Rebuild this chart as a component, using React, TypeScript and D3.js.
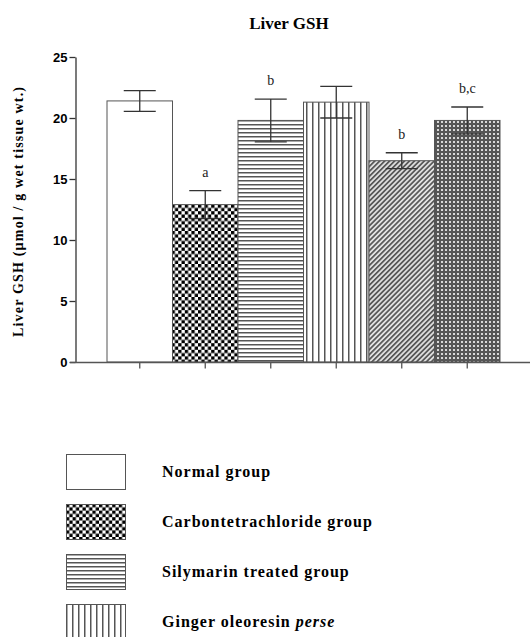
import React, { useEffect, useRef } from 'react';
import * as d3 from 'd3';

const groups = ['g1', 'g2', 'g3', 'g4', 'g5', 'g6'];
const means = [21.4, 12.9, 19.8, 21.3, 16.5, 19.8];
const errors = [0.85, 1.15, 1.75, 1.3, 0.65, 1.1];
const letters = ['', 'a', 'b', '', 'b', 'b,c'];
const fills = ['none', 'checker', 'hlines', 'vlines', 'diag', 'fine'];
const yTicks = [0, 5, 10, 15, 20, 25];

const legendNames = ['Normal group', 'Carbontetrachloride group', 'Silymarin treated group', 'Ginger oleoresin'];
const legendFills = ['none', 'checker', 'hlines', 'vlines'];

export default function App() {
  const ref = useRef<SVGSVGElement>(null);

  useEffect(() => {
    if (!ref.current) return;
    const svg = d3.select(ref.current);
    svg.selectAll('*').remove();

    const defs = svg.append('defs');

    // checkerboard
    const ck = defs.append('pattern').attr('id', 'checker').attr('patternUnits', 'userSpaceOnUse')
      .attr('width', 6.6).attr('height', 6.6);
    ck.append('rect').attr('width', 6.6).attr('height', 6.6).attr('fill', '#fff');
    ck.append('rect').attr('width', 3.3).attr('height', 3.3).attr('fill', '#000');
    ck.append('rect').attr('x', 3.3).attr('y', 3.3).attr('width', 3.3).attr('height', 3.3).attr('fill', '#000');

    // horizontal lines
    const hl = defs.append('pattern').attr('id', 'hlines').attr('patternUnits', 'userSpaceOnUse')
      .attr('width', 4).attr('height', 4);
    hl.append('rect').attr('width', 4).attr('height', 4).attr('fill', '#fff');
    hl.append('rect').attr('width', 4).attr('height', 1.5).attr('fill', '#555');

    // vertical lines
    const vl = defs.append('pattern').attr('id', 'vlines').attr('patternUnits', 'userSpaceOnUse')
      .attr('width', 6).attr('height', 6);
    vl.append('rect').attr('width', 6).attr('height', 6).attr('fill', '#fff');
    vl.append('rect').attr('width', 1.5).attr('height', 6).attr('fill', '#555');

    // diagonal hatch, rising to the right
    const dg = defs.append('pattern').attr('id', 'diag').attr('patternUnits', 'userSpaceOnUse')
      .attr('width', 3.5).attr('height', 3.5).attr('patternTransform', 'rotate(45)');
    dg.append('rect').attr('width', 3.5).attr('height', 3.5).attr('fill', '#e0e0e0');
    dg.append('rect').attr('width', 1.7).attr('height', 3.5).attr('fill', '#555');

    // fine dots
    const fn = defs.append('pattern').attr('id', 'fine').attr('patternUnits', 'userSpaceOnUse')
      .attr('width', 4).attr('height', 4);
    fn.append('rect').attr('width', 4).attr('height', 4).attr('fill', '#555');
    fn.append('rect').attr('x', 1).attr('y', 1).attr('width', 2).attr('height', 2).attr('fill', '#d8d8d8');

    const fillOf = (f: string) => (f === 'none' ? '#fff' : `url(#${f})`);

    const y = d3.scaleLinear().domain([0, 25]).range([362, 57]);
    const x = d3.scaleBand<string>().domain(groups).range([107, 500]).padding(0);
    const data = groups.map((g, i) => ({ g, m: means[i], e: errors[i], l: letters[i], f: fills[i] }));

    // title
    svg.append('text')
      .attr('x', 289).attr('y', 29)
      .attr('text-anchor', 'middle')
      .attr('font-family', 'Liberation Serif, serif')
      .attr('font-weight', 'bold').attr('font-size', 17)
      .text('Liver GSH');

    // y label
    svg.append('text')
      .attr('transform', 'translate(23,212) rotate(-90)')
      .attr('text-anchor', 'middle')
      .attr('font-family', 'Liberation Serif, serif')
      .attr('font-weight', 'bold').attr('font-size', 14)
      .attr('textLength', 250).attr('lengthAdjust', 'spacing')
      .text('Liver GSH (\u00b5mol / g wet tissue wt.)');

    // bars
    svg.append('g').selectAll('rect')
      .data(data)
      .join('rect')
      .attr('x', d => x(d.g)!)
      .attr('y', d => y(d.m))
      .attr('width', x.bandwidth())
      .attr('height', d => y(0) - y(d.m))
      .attr('fill', d => fillOf(d.f))
      .attr('stroke', '#555')
      .attr('stroke-width', 1);

    // error bars
    const eb = svg.append('g').attr('stroke', '#333').attr('stroke-width', 1.3);
    data.forEach(d => {
      const cx = x(d.g)! + x.bandwidth() / 2;
      const hi = y(d.m + d.e);
      const lo = y(d.m - d.e);
      eb.append('line').attr('x1', cx).attr('x2', cx).attr('y1', hi).attr('y2', lo);
      eb.append('line').attr('x1', cx - 16).attr('x2', cx + 16).attr('y1', hi).attr('y2', hi);
      eb.append('line').attr('x1', cx - 16).attr('x2', cx + 16).attr('y1', lo).attr('y2', lo);
    });

    // significance letters
    svg.append('g').selectAll('text')
      .data(data.filter(d => d.l))
      .join('text')
      .attr('x', d => x(d.g)! + x.bandwidth() / 2)
      .attr('y', d => y(d.m + d.e) - 14)
      .attr('text-anchor', 'middle')
      .attr('font-family', 'Liberation Serif, serif')
      .attr('font-size', 14)
      .attr('fill', '#222')
      .text(d => d.l);

    // y axis
    const yAxis = svg.append('g')
      .attr('transform', 'translate(75.5,0)')
      .call(d3.axisLeft(y).tickValues(yTicks).tickSize(6).tickSizeOuter(0).tickFormat(d3.format('d')));
    yAxis.selectAll('path,line').attr('stroke', '#333').attr('stroke-width', 1.3);
    yAxis.selectAll('text')
      .attr('font-family', 'Liberation Sans, Arial, sans-serif')
      .attr('font-weight', 'bold').attr('font-size', 13)
      .attr('fill', '#000').attr('x', -8);

    // x axis
    svg.append('line')
      .attr('x1', 70).attr('x2', 530).attr('y1', 362.5).attr('y2', 362.5)
      .attr('stroke', '#555').attr('stroke-width', 1.3);
    const xAxis = svg.append('g')
      .attr('transform', 'translate(0,362.5)')
      .call(d3.axisBottom(x).tickSize(6).tickFormat(() => ''));
    xAxis.select('.domain').remove();
    xAxis.selectAll('line').attr('stroke', '#555').attr('stroke-width', 1.3);

    // legend
    const lg = svg.append('g').selectAll('g')
      .data(legendNames.map((n, i) => ({ n, f: legendFills[i], i })))
      .join('g')
      .attr('transform', d => `translate(66,${454 + d.i * 50})`);
    lg.append('rect')
      .attr('x', 0.5).attr('y', 0.5)
      .attr('width', 59).attr('height', 35)
      .attr('fill', d => fillOf(d.f))
      .attr('stroke', '#555').attr('stroke-width', 1);
    const lt = lg.append('text')
      .attr('x', 96).attr('y', 23)
      .attr('font-family', 'Liberation Serif, serif')
      .attr('font-weight', 'bold').attr('font-size', 16)
      .attr('letter-spacing', 1)
      .text(d => d.n);
    lt.filter(d => d.i === 3).append('tspan')
      .attr('font-style', 'italic')
      .text(' perse');
  }, []);

  return (
    <svg ref={ref} width={530} height={637}
      style={{ position: 'absolute', left: 0, top: 0, background: '#fff' }} />
  );
}
